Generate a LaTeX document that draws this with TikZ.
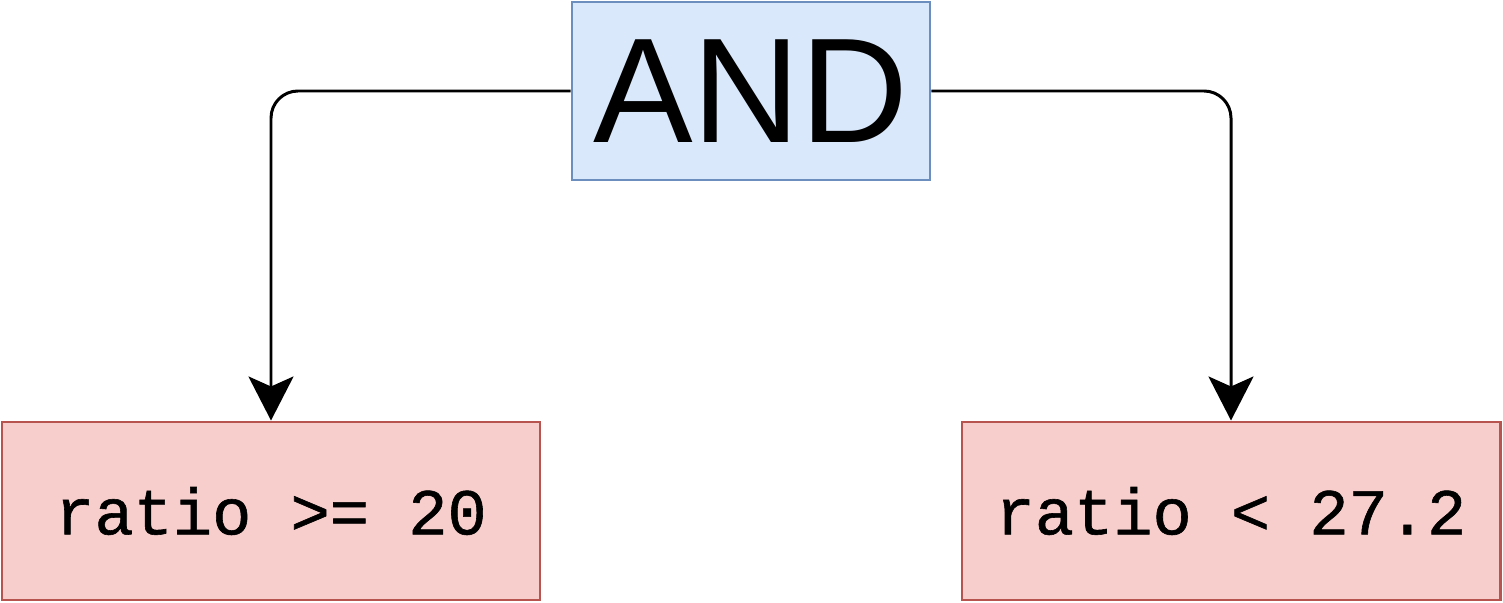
\documentclass[tikz,border=0pt]{standalone}
\usepackage{fontspec}
\setmainfont{Liberation Sans}
\newfontfamily\codefont[FakeBold=0.9]{Liberation Mono}
\usepackage{xcolor}
\usepackage{tikz}
\usetikzlibrary{arrows.meta}

\definecolor{undfill}{HTML}{DAE8FC}
\definecolor{undrand}{HTML}{6C8EBF}
\definecolor{bedfill}{HTML}{F8CECC}
\definecolor{bedrand}{HTML}{B85450}

\begin{document}
\begin{tikzpicture}
    \tikzset{
        verknuepfung/.style={draw=undrand, fill=undfill, line width=0.85pt, minimum width=3.58cm, minimum height=1.78cm, inner sep=0pt, font=\fontsize{42.5}{46}\selectfont},
        bedingung/.style={draw=bedrand, fill=bedfill, line width=0.85pt, minimum width=5.38cm, minimum height=1.78cm, inner sep=0pt, font=\codefont\fontsize{18.6}{22}\selectfont},
        zweig/.style={line width=0.85pt, rounded corners=0.27cm, -{Stealth[length=0.44cm, width=0.45cm, inset=0.1cm]}}
    }

    % Rahmen
    \useasboundingbox (0,0) rectangle (15.03,6.03);

    % --- Knoten ---
    \node[verknuepfung] (und) at (7.51,5.12) {AND};
    \node[bedingung] (links) at (2.71,0.92) {ratio >= 20};
    \node[bedingung] (rechts) at (12.31,0.92) {ratio < 27.2};

    % --- Pfeile ---
    \draw[zweig] (und.west) -| (links.north);
    \draw[zweig] (und.east) -| (rechts.north);

\end{tikzpicture}
\end{document}
